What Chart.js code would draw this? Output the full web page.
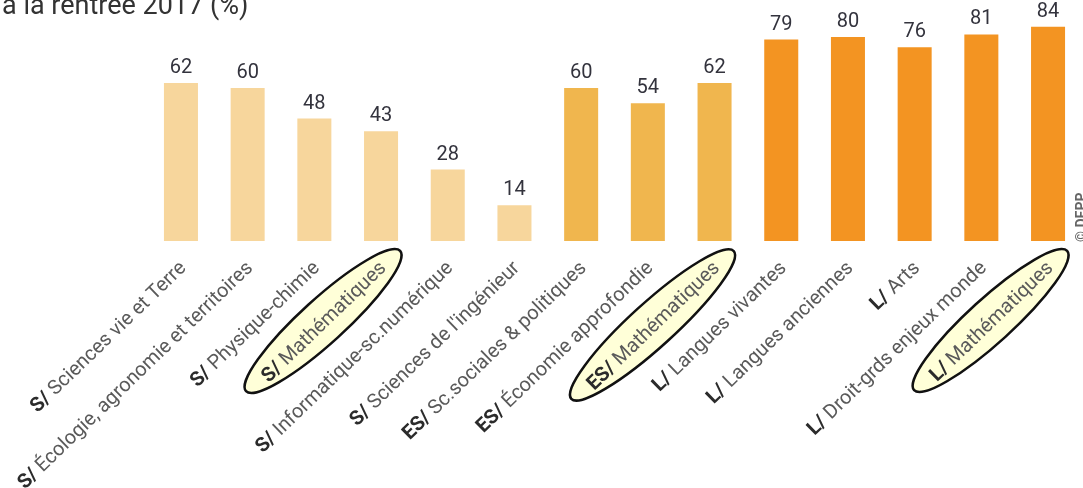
<!DOCTYPE html>
<html lang="fr">
<head>
<meta charset="utf-8">
<title>Spécialités à la rentrée 2017</title>
<script src="https://cdn.jsdelivr.net/npm/chart.js@4/dist/chart.umd.min.js"></script>
<style>
    html, body { margin: 0; padding: 0; background: #fff; overflow: hidden; }
    #wrap { width: 1083px; height: 488px; position: relative; }
</style>
</head>
<body>
<div id="wrap"><canvas id="chart" width="1083" height="488"></canvas></div>
<script>
const titleText = 'à la rentrée 2017 (%)';
const sourceText = '© DEPP';

const prefixes = ['S/', 'S/', 'S/', 'S/', 'S/', 'S/', 'ES/', 'ES/', 'ES/', 'L/', 'L/', 'L/', 'L/', 'L/'];
const categories = [
    'Sciences vie et Terre',
    'Écologie, agronomie et territoires',
    'Physique-chimie',
    'Mathématiques',
    'Informatique-sc.numérique',
    'Sciences de l\'ingénieur',
    'Sc.sociales & politiques',
    'Économie approfondie',
    'Mathématiques',
    'Langues vivantes',
    'Langues anciennes',
    'Arts',
    'Droit-grds enjeux monde',
    'Mathématiques'
];
const values = [62, 60, 48, 43, 28, 14, 60, 54, 62, 79, 80, 76, 81, 84];
const highlighted = [3, 8, 13];

const seriesColors = { 'S/': '#F7D69C', 'ES/': '#F0B64E', 'L/': '#F39422' };

const FONT = 'Roboto, "Liberation Sans", sans-serif';
const LABEL_ANGLE = -44 * Math.PI / 180;

// titre coupé en haut + mention source
const frame = {
    id: 'frame',
    afterDraw(chart) {
        const ctx = chart.ctx;
        ctx.save();
        ctx.fillStyle = '#333333';
        ctx.font = `27px ${FONT}`;
        ctx.textAlign = 'left';
        ctx.textBaseline = 'alphabetic';
        ctx.fillText(titleText, 2, 14);

        ctx.translate(1089, 242);
        ctx.rotate(-Math.PI / 2);
        ctx.fillStyle = '#666666';
        ctx.font = `bold 14px ${FONT}`;
        ctx.textBaseline = 'bottom';
        ctx.fillText(sourceText, 0, 0);
        ctx.restore();
    }
};

// valeurs au-dessus des barres
const valueLabels = {
    id: 'valueLabels',
    afterDatasetsDraw(chart) {
        const ctx = chart.ctx;
        const bars = chart.getDatasetMeta(0).data;
        ctx.save();
        ctx.fillStyle = '#33333d';
        ctx.font = `20px ${FONT}`;
        ctx.textAlign = 'center';
        ctx.textBaseline = 'alphabetic';
        bars.forEach((bar, i) => {
            ctx.fillText(String(values[i]), bar.x, bar.y - 10);
        });
        ctx.restore();
    }
};

// étiquettes inclinées avec préfixe en gras, ellipses sur les maths
const categoryLabels = {
    id: 'categoryLabels',
    afterDraw(chart) {
        const ctx = chart.ctx;
        const xScale = chart.scales.x;
        const baseY = chart.chartArea.bottom;
        const boldFont = `bold 20px ${FONT}`;
        const normalFont = `20px ${FONT}`;

        categories.forEach((name, i) => {
            const x = xScale.getPixelForValue(i);
            const rest = ' ' + name;
            ctx.save();
            ctx.font = boldFont;
            const w1 = ctx.measureText(prefixes[i]).width;
            ctx.font = normalFont;
            const w2 = ctx.measureText(rest).width;
            const total = w1 + w2;

            ctx.translate(x + 6, baseY + 28);
            ctx.rotate(LABEL_ANGLE);

            if (highlighted.includes(i)) {
                ctx.beginPath();
                ctx.ellipse(-total / 2, -7, total / 2 + 22, 22, 0.03, 0, Math.PI * 2);
                ctx.fillStyle = '#FFFFD8';
                ctx.fill();
                ctx.lineWidth = 2.5;
                ctx.strokeStyle = '#111111';
                ctx.stroke();
            }

            ctx.textBaseline = 'alphabetic';
            ctx.textAlign = 'left';
            ctx.font = boldFont;
            ctx.fillStyle = '#2b2b2b';
            ctx.fillText(prefixes[i], -total, 0);
            ctx.font = normalFont;
            ctx.fillStyle = '#5a5a5a';
            ctx.fillText(rest, -total + w1, 0);
            ctx.restore();
        });
    }
};

const chart = new Chart(document.getElementById('chart'), {
    type: 'bar',
    data: {
        labels: categories.map((c, i) => prefixes[i] + ' ' + c),
        datasets: [{
            data: values,
            backgroundColor: prefixes.map(p => seriesColors[p]),
            borderWidth: 0,
            barPercentage: 0.51,
            categoryPercentage: 1
        }]
    },
    options: {
        responsive: false,
        animation: false,
        layout: {
            padding: { left: 147.6, right: 1.6, top: 11.5, bottom: 247 }
        },
        scales: {
            x: { display: false },
            y: { display: false, min: 0, max: 90 }
        },
        plugins: {
            legend: { display: false },
            tooltip: { enabled: false }
        }
    },
    plugins: [valueLabels, categoryLabels, frame]
});
</script>
</body>
</html>
